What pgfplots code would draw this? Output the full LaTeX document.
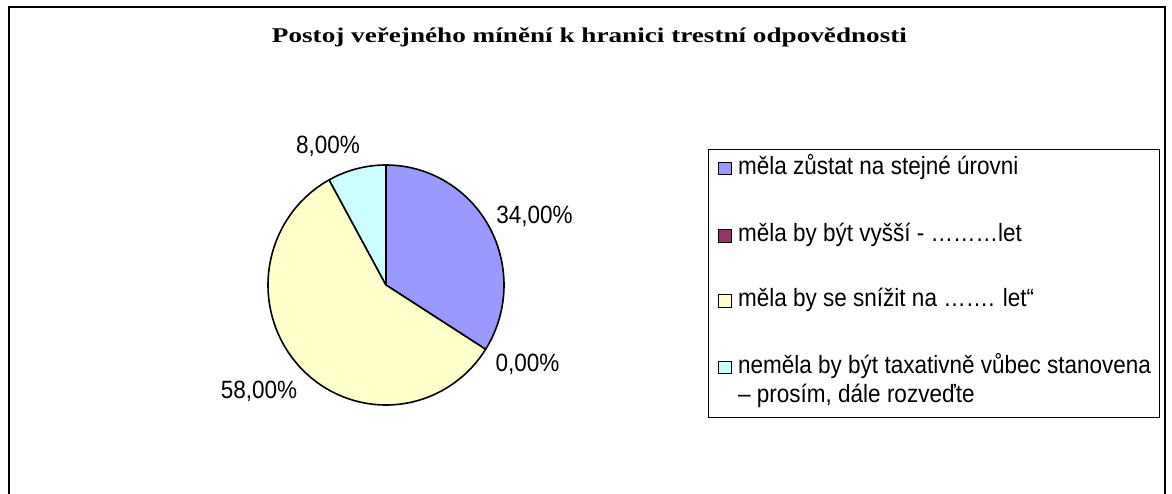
\documentclass[border=0pt]{standalone}
\usepackage{pgfplots}
\pgfplotsset{compat=1.18}
\usepackage{pgfplotstable}
\usepackage{graphicx}
\usepackage{fontspec}
\setmainfont{Liberation Sans}[FakeStretch=0.9]
\newfontfamily\titlefont{Liberation Serif}
\definecolor{pblue}{HTML}{9999FF}
\definecolor{pred}{HTML}{993366}
\definecolor{pyellow}{HTML}{FFFFCC}
\definecolor{pcyan}{HTML}{CCFFFF}
\pgfplotstableread{
val
34
0
58
8
}\piedata
\begin{document}
\begin{tikzpicture}
\pgfplotstablegetelem{0}{val}\of\piedata\let\vA\pgfplotsretval
\pgfplotstablegetelem{1}{val}\of\piedata\let\vB\pgfplotsretval
\pgfplotstablegetelem{2}{val}\of\piedata\let\vC\pgfplotsretval
\pgfplotstablegetelem{3}{val}\of\piedata\let\vD\pgfplotsretval
\pgfmathsetmacro\aA{90-3.6*\vA}
\pgfmathsetmacro\aB{\aA-3.6*\vB}
\pgfmathsetmacro\aC{\aB-3.6*\vC}
\pgfmathsetmacro\aD{\aC-3.6*\vD}
\useasboundingbox (0,0) rectangle (1172pt,-493pt);
\begin{axis}[hide axis, clip=false, x=118pt, y=120pt,
  xmin=-1, xmax=1, ymin=-1, ymax=1,
  anchor=origin, at={(386pt,-285pt)}]
\addplot[fill=pblue, draw=black, line width=1.6pt, line join=round, domain=\aA:90, samples=90] ({cos(x)},{sin(x)}) -- (axis cs:0,0) -- cycle;
\addplot[fill=pyellow, draw=black, line width=1.6pt, line join=round, domain=\aC:\aB, samples=150] ({cos(x)},{sin(x)}) -- (axis cs:0,0) -- cycle;
\addplot[fill=pcyan, draw=black, line width=1.6pt, line join=round, domain=\aD:\aC, samples=30] ({cos(x)},{sin(x)}) -- (axis cs:0,0) -- cycle;
\end{axis}
\begin{scope}[x=1pt,y=-1pt]
\draw[line width=2.4pt] (9,520) -- (9,7) -- (1165,7) -- (1165,520);
\node[anchor=base, inner sep=0pt] at (589.5,42.5) {\resizebox{635pt}{\height}{\titlefont\bfseries\fontsize{21}{24}\selectfont Postoj veřejného mínění k hranici trestní odpovědnosti}};
\begin{scope}[every node/.style={inner sep=0pt, font=\fontsize{25}{28}\selectfont}]
\node[anchor=base] at (534.5,223) {34,00\%};
\node[anchor=base] at (527.5,371.5) {0,00\%};
\node[anchor=base] at (259,398) {58,00\%};
\node[anchor=base] at (328,153) {8,00\%};
\end{scope}
\draw[line width=0.9pt] (708,149) rectangle (1159,417);
\begin{scope}[every node/.style={inner sep=0pt, anchor=base west, font=\fontsize{25}{28}\selectfont}]
\draw[fill=pblue, line width=0.8pt] (718.5,162) rectangle (731,174.5);
\node at (738,174) {měla zůstat na stejné úrovni};
\draw[fill=pred, line width=0.8pt] (718.5,229.5) rectangle (731,242);
\node at (738,241.7) {měla by být vyšší - \dots\dots\dots let};
\draw[fill=pyellow, line width=0.8pt] (718.5,294.5) rectangle (731,307);
\node at (738,306.7) {měla by se snížit na \dots\dots. let“};
\draw[fill=pcyan, line width=0.8pt] (718.5,361) rectangle (731,373.5);
\node at (738,373) {neměla by být taxativně vůbec stanovena};
\node at (738,402.7) {– prosím, dále rozveďte};
\end{scope}
\end{scope}
\end{tikzpicture}
\end{document}
